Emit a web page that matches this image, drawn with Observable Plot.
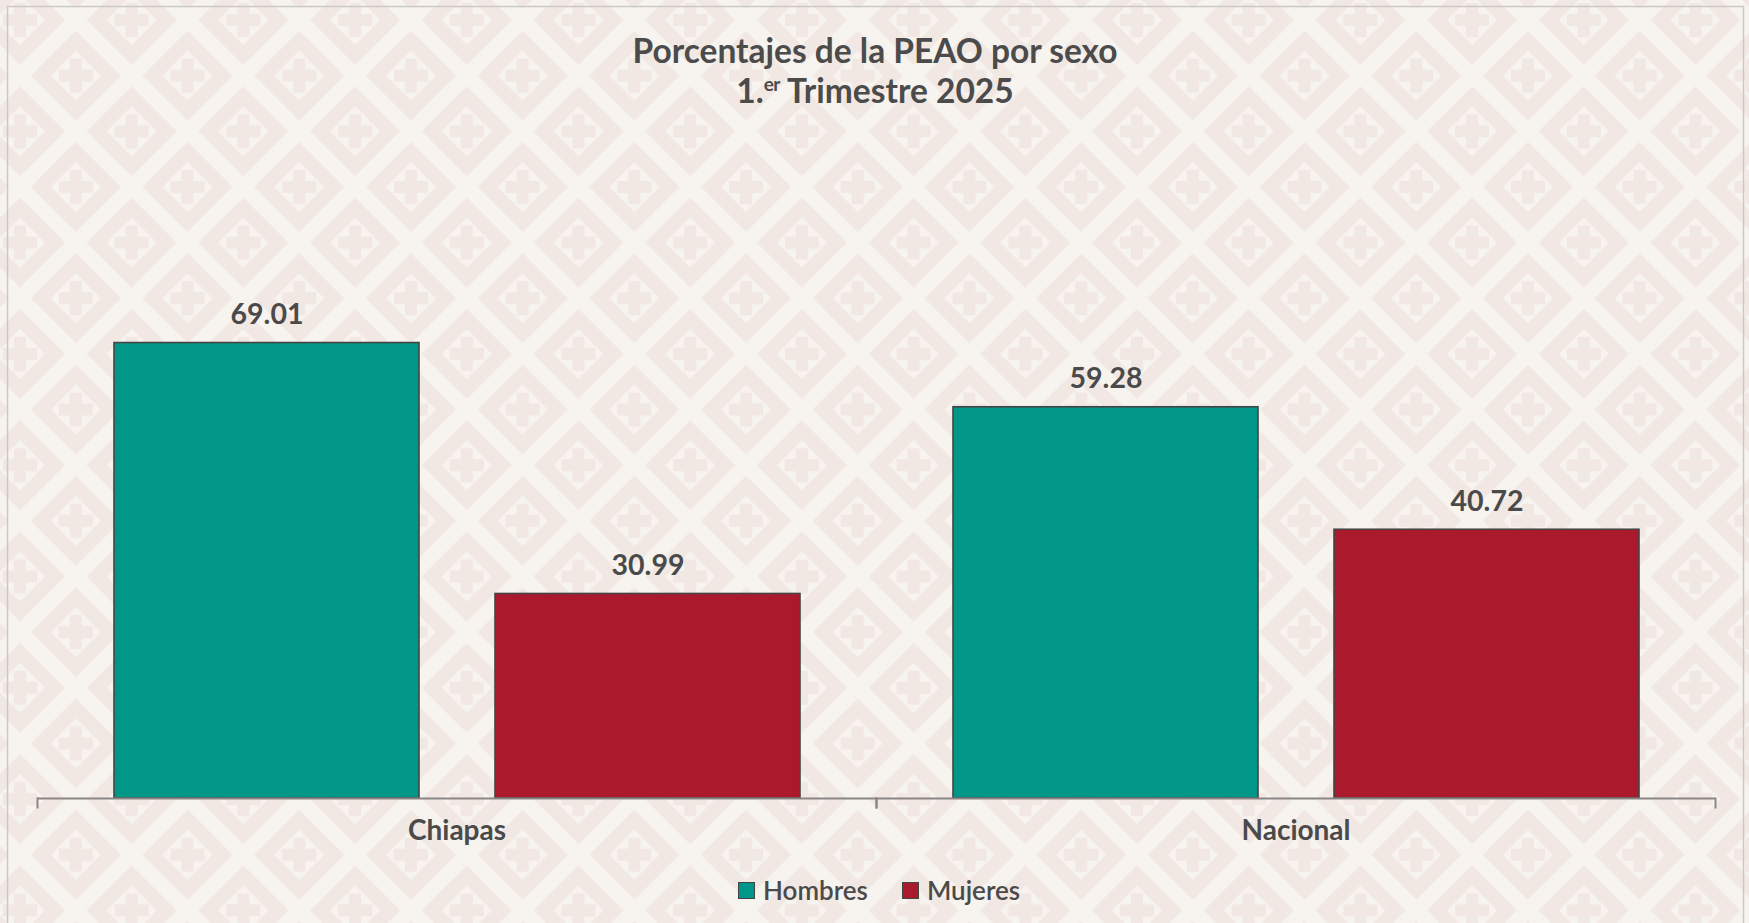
<!DOCTYPE html>
<html>
<head>
<meta charset="utf-8">
<script src="https://cdn.jsdelivr.net/npm/d3@7"></script>
<script src="https://cdn.jsdelivr.net/npm/@observablehq/plot@0.6"></script>
<style>
  html, body { margin: 0; padding: 0; }
  #wrap { position: relative; width: 1749px; height: 923px; overflow: hidden; font-family: Lato, "Open Sans", sans-serif; color: #4a4a4a; }
  #bg { position: absolute; left: 0; top: 0; }
  #title { position: absolute; left: 0; top: 30px; width: 1750px; text-align: center; font-size: 33.5px; font-weight: 700; line-height: 40px; color: #4b4b4b; }
  #title sup { font-size: 19px; vertical-align: baseline; position: relative; top: -12px; letter-spacing: -0.5px; }
  #chart { position: absolute; left: 0; top: 0; }
  #legend { position: absolute; left: 738px; top: 874px; display: flex; align-items: center; font-size: 26px; font-weight: 600; color: #4a4a4a; }
  #legend .item { display: flex; align-items: center; margin-right: 34px; }
  #legend .sw { width: 17px; height: 17px; box-sizing: border-box; border: 1.5px solid #444; margin-right: 8px; }
  g[aria-label="fx-axis tick label"] { font-weight: 700; }
</style>
</head>
<body>
<div id="wrap">
  <svg id="bg" width="1749" height="923" xmlns="http://www.w3.org/2000/svg">
    <defs>
      <pattern id="pat" patternUnits="userSpaceOnUse" x="20" y="20" width="111.7" height="111.3">
        <rect width="111.7" height="111.3" fill="#f7f3ef"/>
        <g id="tileA"></g>
      </pattern>
    </defs>
    <rect width="1749" height="923" fill="url(#pat)"/>
    <rect x="7.5" y="6.5" width="1736" height="930" fill="none" stroke="#cbc8c6" stroke-width="1.5"/>
  </svg>
  <div id="title">Porcentajes de la PEAO por sexo<br>1.<sup>er</sup> Trimestre 2025</div>
  <div id="chart"></div>
  <div id="legend"></div>
</div>
<script>
// ---- data ----
const categorias = ["Chiapas", "Nacional"];
const sexos = ["Hombres", "Mujeres"];
const valoresHombres = [69.01, 59.28];
const valoresMujeres = [30.99, 40.72];
const colores = ["#009688", "#ab192d"];

// ---- background tile (decoration) ----
(function () {
  const W = 111.7, H = 111.3, pink = "#f2e8e3", light = "#f7f3ef";
  const g = document.getElementById("tileA");
  const ns = "http://www.w3.org/2000/svg";
  const centers = [[0, 0], [W, 0], [0, H], [W, H], [W / 2, H / 2]];
  for (const [cx, cy] of centers) {
    const d1 = document.createElementNS(ns, "polygon");
    const R = 45;
    d1.setAttribute("points", `${cx - R},${cy} ${cx},${cy - R} ${cx + R},${cy} ${cx},${cy + R}`);
    d1.setAttribute("fill", pink);
    g.appendChild(d1);
    const d2 = document.createElementNS(ns, "polygon");
    const r = 25;
    d2.setAttribute("points", `${cx - r},${cy} ${cx},${cy - r} ${cx + r},${cy} ${cx},${cy + r}`);
    d2.setAttribute("fill", light);
    g.appendChild(d2);
    const a = 17, t = 6;
    const h = document.createElementNS(ns, "rect");
    h.setAttribute("x", cx - a); h.setAttribute("y", cy - t); h.setAttribute("width", 2 * a); h.setAttribute("height", 2 * t); h.setAttribute("fill", pink);
    g.appendChild(h);
    const v = document.createElementNS(ns, "rect");
    v.setAttribute("x", cx - t); v.setAttribute("y", cy - a); v.setAttribute("width", 2 * t); v.setAttribute("height", 2 * a); v.setAttribute("fill", pink);
    g.appendChild(v);
  }
})();

// ---- chart ----
const data = categorias.flatMap((c, i) => [
  {cat: c, sexo: sexos[0], valor: valoresHombres[i]},
  {cat: c, sexo: sexos[1], valor: valoresMujeres[i]}
]);

const axisColor = "#8a8686";
const chart = Plot.plot({
  width: 1749,
  height: 923,
  marginTop: 270,
  marginBottom: 125,
  marginLeft: 37,
  marginRight: 34,
  style: {background: "transparent", fontFamily: "Lato, 'Open Sans', sans-serif", color: "#4a4a4a", overflow: "visible"},
  fx: {domain: categorias, padding: 0, label: null},
  x: {domain: sexos, padding: 0.2, axis: null},
  y: {domain: [0, 80], axis: null},
  color: {domain: sexos, range: colores},
  marks: [
    Plot.barY(data, {fx: "cat", x: "sexo", y: "valor", fill: "sexo", stroke: "#454545", strokeWidth: 1.6}),
    Plot.text(data, {fx: "cat", x: "sexo", y: "valor", text: d => d.valor.toFixed(2), lineAnchor: "bottom", dy: -19, fontSize: 28.5, fontWeight: 700, fill: "#4a4a4a"}),
    Plot.ruleY([0], {stroke: axisColor, strokeWidth: 2}),
    Plot.frame({anchor: "left", stroke: axisColor, strokeWidth: 2, insetTop: 528, insetBottom: -9}),
    Plot.frame({anchor: "right", stroke: axisColor, strokeWidth: 2, insetTop: 528, insetBottom: -9}),
    Plot.axisFx({anchor: "bottom", tickSize: 0, tickPadding: 22, fontSize: 28, label: null, fill: "#4a4a4a"})
  ]
});
document.getElementById("chart").appendChild(chart);

// ---- legend ----
const legend = document.getElementById("legend");
sexos.forEach((s, i) => {
  const it = document.createElement("div");
  it.className = "item";
  const sw = document.createElement("div");
  sw.className = "sw";
  sw.style.background = colores[i];
  const tx = document.createElement("span");
  tx.textContent = s;
  it.appendChild(sw); it.appendChild(tx);
  legend.appendChild(it);
});
</script>
</body>
</html>
